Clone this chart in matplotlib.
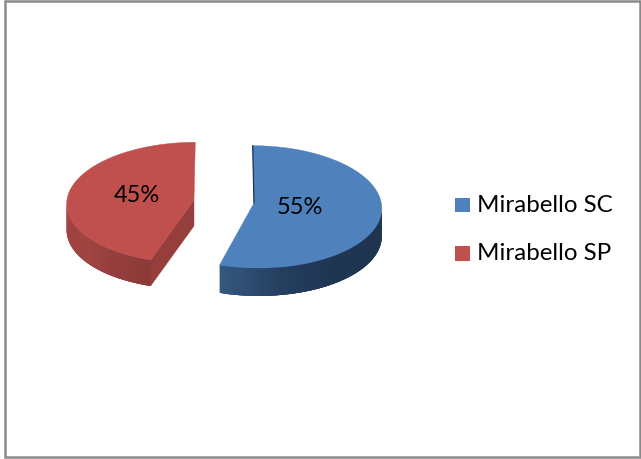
import numpy as np
import matplotlib
matplotlib.use('Agg')
import matplotlib.pyplot as plt
from matplotlib.patches import Rectangle, Polygon
from matplotlib.collections import PolyCollection
from matplotlib.colors import LinearSegmentedColormap

series = ['Mirabello SC', 'Mirabello SP']
shares = [55, 45]
pct_labels = ['55%', '45%']

blue = '#4f81bd'
red = '#c0504d'

plt.rcParams['font.family'] = ['Lato', 'DejaVu Sans']

fig = plt.figure(figsize=(6.41, 4.59), dpi=100)
ax = fig.add_axes([0, 0, 1, 1])
ax.set_xlim(0, 641)
ax.set_ylim(459, 0)
ax.axis('off')

ax.add_patch(Rectangle((4.5, 1), 635.5, 456, fill=False, ec='#8a8a8a', lw=1.8))


def ell(t, cx, cy, rx, ry, sh):
    t = np.radians(t)
    # y axis of the axes points down, so flip sin
    return cx + rx * np.cos(t) + sh * np.sin(t), cy - ry * np.sin(t)


def side(t1, t2, geo, depth, cmap):
    ts = np.linspace(t1, t2, 120)
    x, y = ell(ts, *geo)
    # quads overlap the next ones so no seams show between them
    quads = []
    for i in range(len(ts) - 1):
        j = min(i + 4, len(ts) - 1)
        xs = list(x[i:j + 1]) + list(x[i:j + 1][::-1])
        ys = list(y[i:j + 1]) + list(y[i:j + 1][::-1] + depth)
        quads.append(list(zip(xs, ys)))
    pc = PolyCollection(quads, array=np.linspace(0, 1, len(quads)), cmap=cmap, edgecolors='none', zorder=2)
    ax.add_collection(pc)


def top(t1, t2, geo, apex, color):
    ts = np.linspace(t1, t2, 200)
    x, y = ell(ts, *geo)
    pts = list(zip(x, y)) + [apex]
    ax.add_patch(Polygon(pts, fc=color, ec=color, lw=0.3, zorder=3))


angles = np.array(shares) * 3.6
blue_t1 = 90 - angles[0]
red_t2 = 90 + angles[1]

geo_blue = (255.7, 206.8, 126, 61.1, -3)
geo_red = (192.3, 202.6, 125.6, 60.3, 3)
apex_blue = (254, 203)
apex_red = (194, 200)

# blue slice
cm_blue = LinearSegmentedColormap.from_list('b', ['#35587f', '#253f60', '#1f3552', '#1e3450', '#20374f'])
side(blue_t1, 0, geo_blue, 28, cm_blue)
top(blue_t1, 90, geo_blue, apex_blue, blue)
tx, ty = ell(90, *geo_blue)
ax.plot([apex_blue[0], tx], [apex_blue[1], ty], color='#1f3552', lw=0.9, zorder=4)

# red slice
cm_red = LinearSegmentedColormap.from_list('r', ['#a64644', '#9e4341', '#a04441', '#943e3c', '#8b3a38'])
side(180, red_t2, geo_red, 26, cm_red)
px, py = ell(red_t2, *geo_red)
ax.add_patch(Polygon([apex_red, (px, py), (px, py + 26), (apex_red[0], apex_red[1] + 26)],
                     fc='#953e3c', ec='#953e3c', lw=0.3, zorder=2))
top(90, red_t2, geo_red, apex_red, red)

ax.text(300, 208, pct_labels[0], fontsize=17, ha='center', va='center', color='black', zorder=5)
ax.text(137, 195, pct_labels[1], fontsize=17, ha='center', va='center', color='black', zorder=5)

# legend
for name, color, y in zip(series, [blue, red], [197.5, 246]):
    ax.add_patch(Rectangle((455, y), 15, 14.7, fc=color, ec='none'))
    ax.text(477, y + 14.5, name, fontsize=17.4, ha='left', va='baseline', color='black')

plt.savefig('out.png', dpi=100)
